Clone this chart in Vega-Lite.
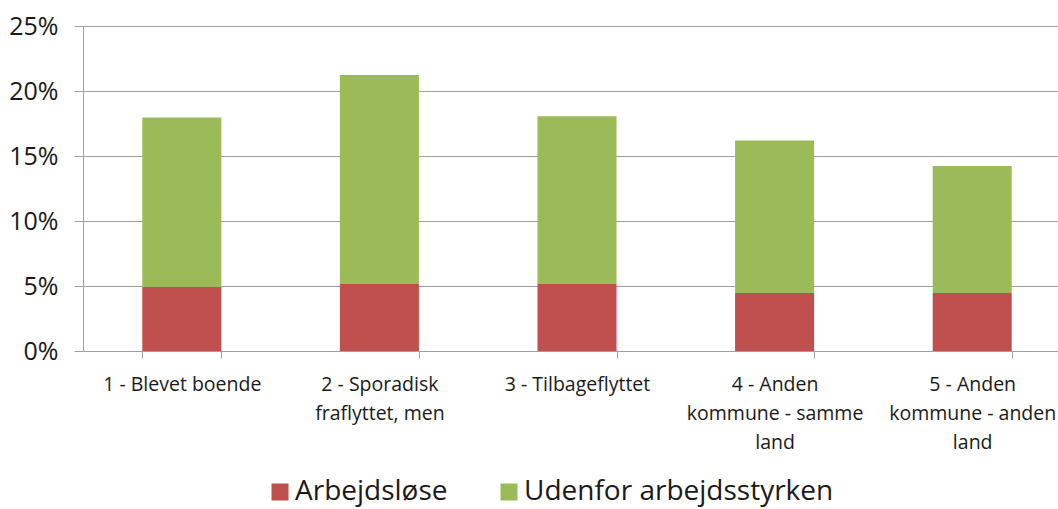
{
  "$schema": "https://vega.github.io/schema/vega-lite/v6.json",
  "autosize": {"type": "none"},
  "padding": {"left": 83, "top": 26, "right": 0, "bottom": 158},
  "width": 975,
  "height": 325,
  "background": "white",
  "data": {
    "values": [
      {"kategori": "1 - Blevet boende", "gruppe": "Arbejdsløse", "andel": 0.0492},
      {"kategori": "1 - Blevet boende", "gruppe": "Udenfor arbejdsstyrken", "andel": 0.1305},
      {"kategori": "2 - Sporadisk fraflyttet, men", "gruppe": "Arbejdsløse", "andel": 0.0515},
      {"kategori": "2 - Sporadisk fraflyttet, men", "gruppe": "Udenfor arbejdsstyrken", "andel": 0.1608},
      {"kategori": "3 - Tilbageflyttet", "gruppe": "Arbejdsløse", "andel": 0.0515},
      {"kategori": "3 - Tilbageflyttet", "gruppe": "Udenfor arbejdsstyrken", "andel": 0.129},
      {"kategori": "4 - Anden kommune - samme land", "gruppe": "Arbejdsløse", "andel": 0.0446},
      {"kategori": "4 - Anden kommune - samme land", "gruppe": "Udenfor arbejdsstyrken", "andel": 0.1174},
      {"kategori": "5 - Anden kommune - anden land", "gruppe": "Arbejdsløse", "andel": 0.0446},
      {"kategori": "5 - Anden kommune - anden land", "gruppe": "Udenfor arbejdsstyrken", "andel": 0.0977}
    ]
  },
  "mark": {"type": "bar"},
  "encoding": {
    "x": {
      "field": "kategori",
      "type": "nominal",
      "sort": null,
      "scale": {"range": [0, 988], "paddingInner": 0.6, "paddingOuter": 0.3},
      "axis": {
        "title": null,
        "labelAngle": 0,
        "labelFont": "Open Sans",
        "labelFontSize": 19.5,
        "labelColor": "#1a1a1a",
        "labelPadding": 26,
        "labelBaseline": "middle",
        "labelLineHeight": 29,
        "labelLimit": 300,
        "tickBand": "extent",
        "tickSize": 7,
        "tickColor": "#a0a0a0",
        "domainColor": "#a0a0a0",
        "labelExpr": "datum.value == '2 - Sporadisk fraflyttet, men' ? ['2 - Sporadisk', 'fraflyttet, men'] : datum.value == '4 - Anden kommune - samme land' ? ['4 - Anden', 'kommune - samme', 'land'] : datum.value == '5 - Anden kommune - anden land' ? ['5 - Anden', 'kommune - anden', 'land'] : datum.value"
      }
    },
    "y": {
      "field": "andel",
      "type": "quantitative",
      "stack": "zero",
      "scale": {"domain": [0, 0.25], "nice": false},
      "axis": {
        "title": null,
        "format": ".0%",
        "values": [0, 0.05, 0.1, 0.15, 0.2, 0.25],
        "labelFont": "Open Sans",
        "labelFontSize": 25,
        "labelColor": "#1a1a1a",
        "labelPadding": 16,
        "tickSize": 9,
        "tickColor": "#a0a0a0",
        "domainColor": "#a0a0a0",
        "gridColor": "#a0a0a0",
        "grid": true
      }
    },
    "order": {"field": "gruppe", "sort": "ascending"},
    "color": {
      "field": "gruppe",
      "type": "nominal",
      "scale": {"domain": ["Arbejdsløse", "Udenfor arbejdsstyrken"], "range": ["#C0504D", "#9BBB59"]},
      "legend": {
        "title": null,
        "orient": "none",
        "direction": "horizontal",
        "legendX": 183,
        "legendY": 452,
        "symbolType": "square",
        "symbolSize": 289,
        "symbolStrokeWidth": 0,
        "labelFont": "Open Sans",
        "labelFontSize": 28,
        "labelColor": "#1a1a1a",
        "labelOffset": 1,
        "columnPadding": 47,
        "labelLimit": 500
      }
    }
  },
  "config": {"view": {"stroke": null}}
}
